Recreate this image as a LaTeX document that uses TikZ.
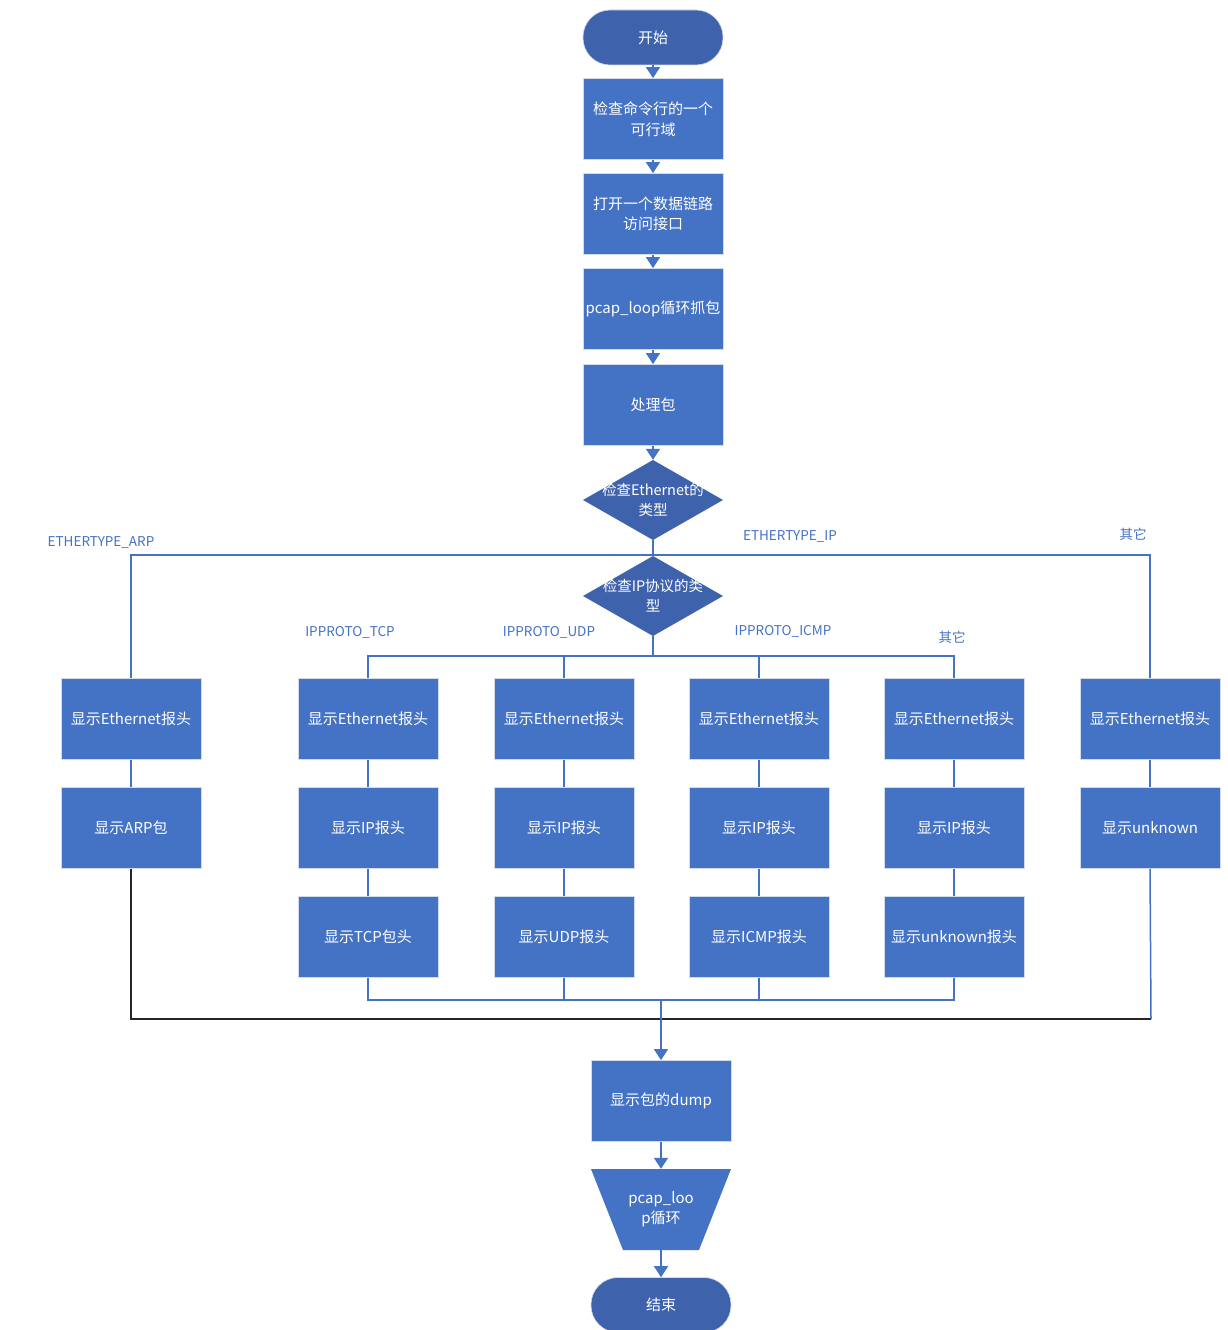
\documentclass[tikz,border=0pt]{standalone}
\usepackage{fontspec}
\setmainfont{Noto Sans CJK SC}
\usetikzlibrary{arrows.meta}
\definecolor{bx}{HTML}{4472C4}
\definecolor{dk}{HTML}{3F62AC}
\definecolor{bd}{HTML}{D3DAE8}
\begin{document}
\begin{tikzpicture}[x=1pt,y=-1pt,
  box/.style={rectangle,fill=bx,draw=bd,line width=0.8pt,minimum width=140pt,minimum height=81pt,
    inner sep=1pt,text=white,align=center,font=\fontsize{15}{20.5}\selectfont},
  term/.style={rectangle,rounded corners=27pt,fill=dk,draw=bd,line width=0.6pt,minimum width=140pt,minimum height=55pt,
    text=white,font=\fontsize{15}{18}\selectfont},
  dia/.style={rectangle,minimum width=140pt,minimum height=80pt,inner sep=0pt,text=white,align=center,
    font=\fontsize{14.5}{20}\selectfont,
    path picture={\fill[dk] (path picture bounding box.north) -- (path picture bounding box.east)
      -- (path picture bounding box.south) -- (path picture bounding box.west) -- cycle;}},
  trap/.style={rectangle,minimum width=140pt,minimum height=81pt,inner sep=0pt,text=white,align=center,
    font=\fontsize{15}{20}\selectfont,
    path picture={\fill[bx] (path picture bounding box.north west) -- (path picture bounding box.north east)
      -- ([xshift=-32pt]path picture bounding box.south east) -- ([xshift=32pt]path picture bounding box.south west) -- cycle;}},
  lbl/.style={text=bx,font=\fontsize{13.5}{16}\selectfont,inner sep=0pt},
  ln/.style={draw=bx,line width=1.5pt},
  blk/.style={draw=black!85,line width=1.5pt},
  arr/.style={draw=bx,line width=1.5pt,-{Triangle[width=14pt,length=11pt]}}
]
\useasboundingbox (0,0) rectangle (1227,1330);
\clip (0,0) rectangle (1227,1330);

% main column
\node[term] (start) at (653,37.5) {开始};
\node[box] (b1) at (653,119) {检查命令行的一个\\可行域};
\node[box] (b2) at (653,214) {打开一个数据链路\\访问接口};
\node[box] (b3) at (653,309) {pcap\_loop循环抓包};
\node[box] (b4) at (653,405) {处理包};
\node[dia] (d1) at (653,500) {检查Ethernet的\\类型};
\node[dia] (d2) at (653,596) {检查IP协议的类\\型};

% columns
\node[box] (a1) at (131,719) {显示Ethernet报头};
\node[box] (a2) at (131,828) {显示ARP包};
\node[box] (t1) at (368,719) {显示Ethernet报头};
\node[box] (t2) at (368,828) {显示IP报头};
\node[box] (t3) at (368,937) {显示TCP包头};
\node[box] (u1) at (564,719) {显示Ethernet报头};
\node[box] (u2) at (564,828) {显示IP报头};
\node[box] (u3) at (564,937) {显示UDP报头};
\node[box] (i1) at (759,719) {显示Ethernet报头};
\node[box] (i2) at (759,828) {显示IP报头};
\node[box] (i3) at (759,937) {显示ICMP报头};
\node[box] (o1) at (954,719) {显示Ethernet报头};
\node[box] (o2) at (954,828) {显示IP报头};
\node[box] (o3) at (954,937) {显示unknown报头};
\node[box] (x1) at (1150,719) {显示Ethernet报头};
\node[box] (x2) at (1150,828) {显示unknown};

\node[box] (dump) at (661,1101) {显示包的dump};
\node[trap] (loop) at (661,1209.5) {pcap\_loo\\p循环};
\node[term] (fin) at (661,1305) {结束};

% coordinates
\coordinate (etop) at (1150,555);
\coordinate (ibar) at (653,656);
\coordinate (obar) at (954,656);
\coordinate (bbar) at (661,1000);
\coordinate (blkR) at (1151,1019);

% labels
\node[lbl] (lArp) at (101,542) {ETHERTYPE\_ARP};
\node[lbl] (lIp) at (790,536) {ETHERTYPE\_IP};
\node[lbl] (lOth) at (1133,534) {其它};
\node[lbl] (lTcp) at (350,632) {IPPROTO\_TCP};
\node[lbl] (lUdp) at (549,632) {IPPROTO\_UDP};
\node[lbl] (lIcmp) at (783,631) {IPPROTO\_ICMP};
\node[lbl] (lOth2) at (952,637) {其它};

% main arrows
\draw[arr] (start.south) -- (b1.north);
\draw[arr] (b1.south) -- (b2.north);
\draw[arr] (b2.south) -- (b3.north);
\draw[arr] (b3.south) -- (b4.north);
\draw[arr] (b4.south) -- (d1.north);
\draw[ln] (d1.south) -- (d2.north);

% ethertype bar
\draw[ln] (a1.north) |- (etop) -- (x1.north);
% ip proto bar
\draw[ln] (d2.south) -- (ibar);
\draw[ln] (t1.north) |- (obar) -- (o1.north);
\draw[ln] (u1.north) -- (u1.north |- ibar);
\draw[ln] (i1.north) -- (i1.north |- ibar);

% vertical links
\draw[ln] (a1.south) -- (a2.north);
\draw[ln] (t1.south) -- (t2.north);
\draw[ln] (t2.south) -- (t3.north);
\draw[ln] (u1.south) -- (u2.north);
\draw[ln] (u2.south) -- (u3.north);
\draw[ln] (i1.south) -- (i2.north);
\draw[ln] (i2.south) -- (i3.north);
\draw[ln] (o1.south) -- (o2.north);
\draw[ln] (o2.south) -- (o3.north);
\draw[ln] (x1.south) -- (x2.north);

% bottom joins
\draw[blk] (a2.south) |- (blkR);
\draw[ln] (x2.south) -- (blkR);
\draw[ln] (t3.south) |- (o3.south |- bbar) -- (o3.south);
\draw[ln] (u3.south) -- (u3.south |- bbar);
\draw[ln] (i3.south) -- (i3.south |- bbar);
\draw[arr] (bbar) -- (dump.north);
\draw[arr] (dump.south) -- (loop.north);
\draw[arr] (loop.south) -- (fin.north);
\end{tikzpicture}
\end{document}
